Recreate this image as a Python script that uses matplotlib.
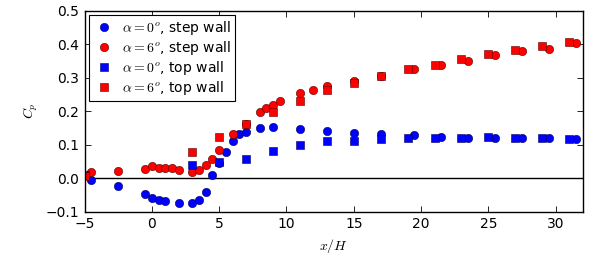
import matplotlib
matplotlib.use('Agg')
import matplotlib.pyplot as plt

plt.rcParams['mathtext.fontset'] = 'cm'
plt.rcParams['font.size'] = 10

# step wall, alpha = 0
x_step0 = [-4.5, -2.5, -0.5, 0, 0.5, 1, 2, 3, 3.5, 4, 4.5, 5, 5.5, 6, 6.5, 7, 8, 9, 11, 13,
           15, 17, 19.5, 21.5, 23.5, 25.5, 27.5, 29.5, 31.5]
cp_step0 = [-0.007, -0.025, -0.046, -0.060, -0.065, -0.067, -0.073, -0.075, -0.066, -0.042,
            0.008, 0.045, 0.079, 0.111, 0.131, 0.139, 0.150, 0.152, 0.147, 0.142,
            0.136, 0.132, 0.128, 0.123, 0.121, 0.121, 0.121, 0.121, 0.118]

# step wall, alpha = 6
x_step6 = [-4.5, -2.5, -0.5, 0, 0.5, 1, 1.5, 2, 3, 3.5, 4, 4.5, 5, 6, 7, 8, 8.5, 9, 9.5,
           11, 12, 13, 15, 17, 19.5, 21.5, 23.5, 25.5, 27.5, 29.5, 31.5]
cp_step6 = [0.017, 0.021, 0.027, 0.036, 0.031, 0.031, 0.029, 0.025, 0.018, 0.025, 0.038,
            0.058, 0.084, 0.131, 0.163, 0.197, 0.210, 0.219, 0.231,
            0.254, 0.264, 0.274, 0.291, 0.305, 0.325, 0.338, 0.351, 0.367, 0.380, 0.386, 0.403]

# top wall, alpha = 0
x_top0 = [-5, 3, 5, 7, 9, 11, 13, 15, 17, 19, 21, 23, 25, 27, 29, 31]
cp_top0 = [0.010, 0.040, 0.049, 0.058, 0.081, 0.099, 0.112, 0.112, 0.118, 0.120,
           0.121, 0.120, 0.123, 0.121, 0.121, 0.118]

# top wall, alpha = 6
x_top6 = [-5, 3, 5, 7, 9, 11, 13, 15, 17, 19, 21, 23, 25, 27, 29, 31]
cp_top6 = [0.005, 0.079, 0.122, 0.163, 0.197, 0.231, 0.263, 0.285, 0.306, 0.325,
           0.338, 0.355, 0.370, 0.383, 0.395, 0.405]

fig = plt.figure(figsize=(6, 2.59), dpi=100)
ax = fig.add_axes([0.141, 0.183, 0.830, 0.776])

ax.axhline(0, color='k', lw=1, zorder=1)

ms = 6
ax.plot(x_step0, cp_step0, 'o', color='b', mec='#000055', mew=0.4, ms=ms,
        label=r'$\alpha=0^o$, step wall')
ax.plot(x_step6, cp_step6, 'o', color='r', mec='#550000', mew=0.4, ms=ms,
        label=r'$\alpha=6^o$, step wall')
ax.plot(x_top0, cp_top0, 's', color='b', mec='#000055', mew=0.4, ms=ms,
        label=r'$\alpha=0^o$, top wall')
ax.plot(x_top6, cp_top6, 's', color='r', mec='#550000', mew=0.4, ms=ms,
        label=r'$\alpha=6^o$, top wall')

ax.set_xlim(-5, 32)
ax.set_ylim(-0.1, 0.5)
ax.set_xticks([-5, 0, 5, 10, 15, 20, 25, 30])
ax.set_yticks([-0.1, 0.0, 0.1, 0.2, 0.3, 0.4, 0.5])
ax.set_yticklabels(['\u22120.1', '0.0', '0.1', '0.2', '0.3', '0.4', '0.5'])
ax.set_xticklabels(['\u22125', '0', '5', '10', '15', '20', '25', '30'])
ax.tick_params(direction='in', top=True, right=True, length=4, width=0.6, pad=4)
for s in ax.spines.values():
    s.set_linewidth(1)

ax.set_xlabel(r'$x/H$', fontsize=10)
ax.set_ylabel(r'$C_p$', fontsize=10)

leg = ax.legend(loc='upper left', numpoints=1, fancybox=False, framealpha=1,
                edgecolor='k', borderpad=0.25, labelspacing=0.15, handletextpad=0.5,
                handlelength=1.6, borderaxespad=0.35, fontsize=10)
leg.get_frame().set_linewidth(0.8)

fig.savefig('out.png', dpi=100)
